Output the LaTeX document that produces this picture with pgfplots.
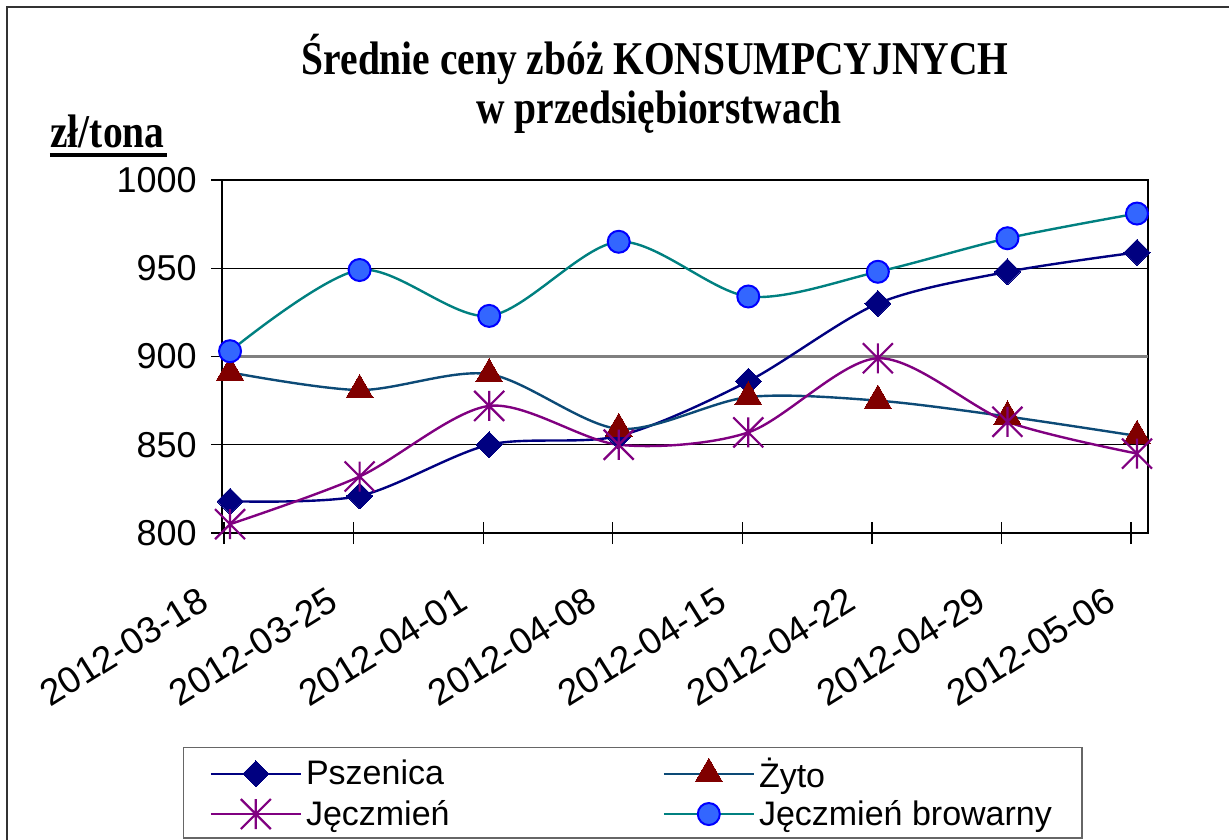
\documentclass[border=0pt]{standalone}
\usepackage{fontspec}
\setmainfont{Liberation Sans}
\newfontfamily\titlefont[FakeStretch=0.84]{Liberation Serif}
\usepackage{pgfplots}
\pgfplotsset{compat=1.18}
\definecolor{pszen}{RGB}{0,0,128}
\definecolor{zytoline}{RGB}{12,74,118}
\definecolor{zytomark}{RGB}{128,0,0}
\definecolor{jecz}{RGB}{128,0,128}
\definecolor{browline}{RGB}{0,128,128}
\definecolor{browfill}{RGB}{51,102,255}
\definecolor{browedge}{RGB}{0,0,255}

% Excel-style star: vertical bar plus an X
\pgfdeclareplotmark{xstar}{%
  \pgfpathmoveto{\pgfqpoint{0pt}{\pgfplotmarksize}}%
  \pgfpathlineto{\pgfqpoint{0pt}{-\pgfplotmarksize}}%
  \pgfpathmoveto{\pgfqpoint{-\pgfplotmarksize}{-\pgfplotmarksize}}%
  \pgfpathlineto{\pgfqpoint{\pgfplotmarksize}{\pgfplotmarksize}}%
  \pgfpathmoveto{\pgfqpoint{-\pgfplotmarksize}{\pgfplotmarksize}}%
  \pgfpathlineto{\pgfqpoint{\pgfplotmarksize}{-\pgfplotmarksize}}%
  \pgfusepathqstroke}

\begin{document}
\begin{tikzpicture}
\path[use as bounding box] (-111pt,-153pt) rectangle (503.5pt,266.5pt);
% chart frame
\draw[black!80, line width=1pt] (-107.5pt,-160pt) -- (-107.5pt,263pt) -- (510pt,263pt);
% title and unit
\node[anchor=base, font=\titlefont\bfseries\fontsize{23.5}{26}\selectfont, inner sep=0pt]
  at (216.5pt,229pt) {Średnie ceny zbóż KONSUMPCYJNYCH};
\node[anchor=base, font=\titlefont\bfseries\fontsize{23.5}{26}\selectfont, inner sep=0pt]
  at (218.5pt,204.5pt) {w przedsiębiorstwach};
\node[anchor=base west, font=\titlefont\bfseries\fontsize{23.5}{26}\selectfont, inner sep=0pt]
  at (-86pt,192.5pt) {zł/tona};
\draw[line width=2pt] (-86pt,189pt) -- (-27.5pt,189pt);

\begin{axis}[
    at={(0,0)}, anchor=south west,
    width=463pt, height=176.5pt, scale only axis,
    xmin=-0.062, xmax=7.085, ymin=800, ymax=1000,
    xtick={-0.046,0.954,1.954,2.954,3.954,4.954,5.954,6.954},
    xticklabels={2012-03-18,2012-03-25,2012-04-01,2012-04-08,2012-04-15,2012-04-22,2012-04-29,2012-05-06},
    ytick={800,850,900,950,1000},
    ymajorgrids, grid style={black, line width=0.6pt},
    axis line style={black, line width=0.6pt},
    tick style={black, line width=0.6pt},
    tick pos=left,
    tick align=center, major tick length=11pt,
    clip=false,
    /pgf/number format/assume math mode=true,
    /pgf/number format/1000 sep={},
    yticklabel style={font=\fontsize{18}{20}\selectfont, inner sep=0pt, anchor=east, xshift=-7pt},
    xticklabel style={font=\fontsize{18.5}{20}\selectfont, inner sep=0pt, anchor=north east,
      xshift=-13.5pt, yshift=-20.5pt, rotate=32},
    legend columns=2,
    legend cell align=left,
    legend style={at={(axis description cs:-0.0421,-0.606)}, anchor=north west,
      draw=black!60, line width=0.6pt, fill=white,
      font=\fontsize{17}{19}\selectfont,
      inner xsep=13pt, inner ysep=3pt, row sep=1pt,
      /tikz/every even column/.append style={column sep=104.5pt},
      /tikz/every odd column/.append style={column sep=0pt}},
    legend image code/.code={\draw[#1, mark repeat=2, mark phase=2]
      plot coordinates {(0pt,0pt) (22.5pt,0pt) (45pt,0pt)};},
]
\draw[black!50, line width=1.2pt] (axis cs:-0.062,900) -- (axis cs:7.085,900);

\addplot[color=pszen, line width=1.2pt, smooth, mark=square*, mark size=4.6pt,
  mark options={rotate=45, fill=pszen, draw=pszen, line width=0pt}] coordinates {
  (0,818) (1,821) (2,850) (3,855) (4,886) (5,930) (6,948) (7,959)
};
\addlegendentry{Pszenica}

\addplot[color=zytoline, line width=1.2pt, smooth, mark=triangle*, mark size=7.8pt,
  mark options={fill=zytomark, draw=zytomark, line width=0pt}] coordinates {
  (0,891) (1,881) (2,890) (3,859) (4,877) (5,875) (6,866) (7,855)
};
\addlegendentry{Żyto}

\addplot[color=jecz, line width=1.2pt, smooth, mark=xstar, mark size=7.5pt,
  mark options={draw=jecz, line width=1.1pt}] coordinates {
  (0,805) (1,832) (2,872) (3,850) (4,857) (5,899) (6,863) (7,845)
};
\addlegendentry{Jęczmień}

\addplot[color=browline, line width=1.2pt, smooth, mark=*, mark size=5.5pt,
  mark options={fill=browfill, draw=browedge, line width=1pt}] coordinates {
  (0,903) (1,949) (2,923) (3,965) (4,934) (5,948) (6,967) (7,981)
};
\addlegendentry{Jęczmień browarny}
\end{axis}
\end{tikzpicture}
\end{document}
